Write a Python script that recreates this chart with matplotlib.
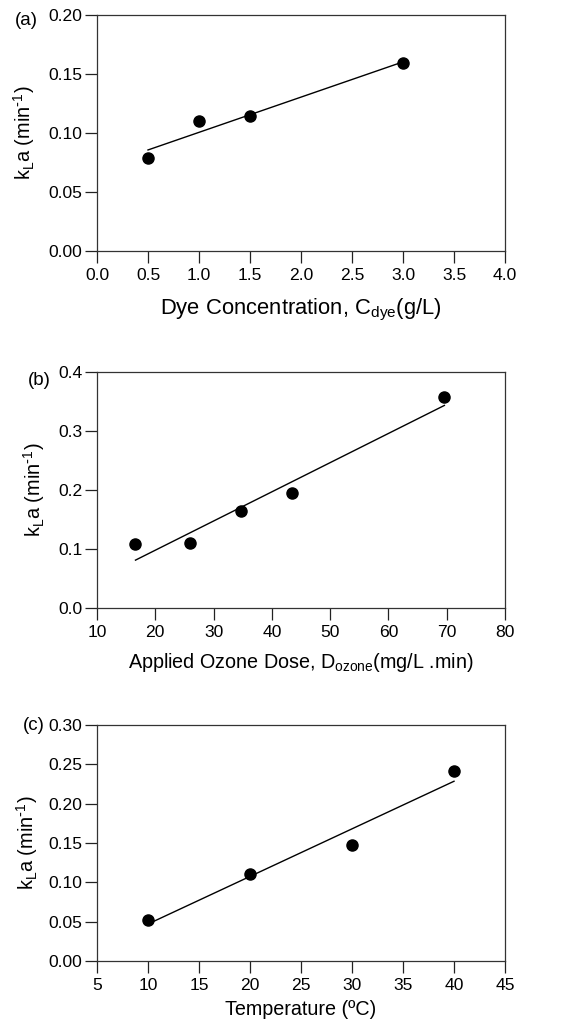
import matplotlib
matplotlib.use("Agg")
import matplotlib.pyplot as plt
import numpy as np

plt.rcParams['font.family'] = ['Liberation Sans', 'DejaVu Sans']
plt.rcParams['mathtext.default'] = 'regular'

# (a) dye concentration
dye_conc = [0.5, 1.0, 1.5, 3.0]
kla_dye = [0.079, 0.110, 0.114, 0.159]

# (b) applied ozone dose
ozone_dose = [16.6, 26.0, 34.7, 43.5, 69.6]
kla_ozone = [0.108, 0.111, 0.165, 0.195, 0.358]

# (c) temperature
temperature = [10, 20, 30, 40]
kla_temp = [0.052, 0.110, 0.148, 0.241]

ylabel = r'k$_L$a (min$^{\text{-}1}$)'

panels = [
    dict(x=dye_conc, y=kla_dye, tag='(a)',
         xlabel=r'Dye Concentration, C$_{dye}$(g/L)', xfs=15.8, lpad=10,
         xlim=(0, 4), xticks=np.arange(0, 4.01, 0.5), xfmt='%.1f',
         ylim=(0, 0.20), yticks=np.arange(0, 0.201, 0.05), yfmt='%.2f',
         rect=[0.1687, 0.7544, 0.7096, 0.2309], ylx=-0.147, tagxy=(0.026, 0.980)),
    dict(x=ozone_dose, y=kla_ozone, tag='(b)',
         xlabel=r'Applied Ozone Dose, D$_{ozone}$(mg/L .min)', xfs=14.2, lpad=8,
         xlim=(10, 80), xticks=np.arange(10, 81, 10), xfmt='%d',
         ylim=(0, 0.4), yticks=np.arange(0, 0.401, 0.1), yfmt='%.1f',
         rect=[0.1687, 0.4051, 0.7096, 0.2309], ylx=-0.123, tagxy=(0.049, 0.628)),
    dict(x=temperature, y=kla_temp, tag='(c)',
         xlabel=u'Temperature (\u00baC)', xfs=14.2, lpad=5,
         xlim=(5, 45), xticks=np.arange(5, 46, 5), xfmt='%d',
         ylim=(0, 0.30), yticks=np.arange(0, 0.301, 0.05), yfmt='%.2f',
         rect=[0.1687, 0.0597, 0.7096, 0.2309], ylx=-0.14, tagxy=(0.040, 0.2905)),
]

fig = plt.figure(figsize=(5.75, 10.22), dpi=100)

for p in panels:
    ax = fig.add_axes(p['rect'])
    x = np.array(p['x'])
    y = np.array(p['y'])
    slope, icpt = np.polyfit(x, y, 1)
    xf = np.array([x.min(), x.max()])
    ax.plot(xf, slope * xf + icpt, color='black', lw=1.0, zorder=2)
    ax.plot(x, y, 'o', color='black', ms=8, zorder=3)
    ax.set_xlim(*p['xlim'])
    ax.set_ylim(*p['ylim'])
    ax.set_xticks(p['xticks'])
    ax.set_yticks(p['yticks'])
    ax.set_xticklabels([p['xfmt'] % v for v in p['xticks']])
    ax.set_yticklabels([p['yfmt'] % v for v in p['yticks']])
    ax.tick_params(direction='out', length=8.5, width=0.9, labelsize=12.6,
                   colors='#222222', labelcolor='black')
    ax.tick_params(axis='x', pad=4)
    ax.tick_params(axis='y', pad=2)
    for s in ax.spines.values():
        s.set_linewidth(0.9)
        s.set_color('#333333')
    ax.set_xlabel(p['xlabel'], fontsize=p['xfs'], labelpad=p['lpad'])
    ax.set_ylabel(ylabel, fontsize=14.3)
    ax.yaxis.set_label_coords(p['ylx'], 0.5)
    fig.text(p['tagxy'][0], p['tagxy'][1], p['tag'], fontsize=13.5,
             ha='left', va='center')

fig.savefig('out.png', dpi=100)
